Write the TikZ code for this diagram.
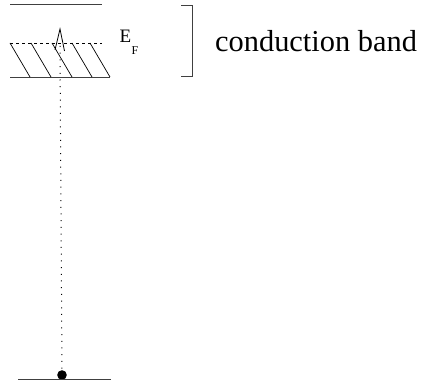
\documentclass[tikz,border=0pt]{standalone}
\usepackage{fontspec}
\setmainfont{Liberation Serif}
\begin{document}
\begin{tikzpicture}[x=1pt,y=-1pt,
  level/.style={line width=0.9pt, draw=black!75},
  hatch/.style={line width=0.7pt},
  lbl/.style={inner sep=0pt, anchor=base west}]
\useasboundingbox (0,0) rectangle (421,385);
% levels
\draw[level] (10,4.5) coordinate (t1) -- (102,4.5) coordinate (t2);
\draw[line width=0.7pt, dash pattern=on 3pt off 3pt] (10,43) coordinate (f1) -- (102,43) coordinate (f2);
\draw[level] (10,77) coordinate (b1) -- (110,77) coordinate (b2);
% hatching
\foreach \x in {10,31,52,72,90}
  \draw[hatch] (\x,43) -- (\x+20,77);
% arrow head and dotted line
\coordinate (tip) at (60,29);
\coordinate (dot) at (62,375);
\draw[line width=0.8pt] (55,50) -- (tip) -- (64.5,51);
\draw[line width=1pt, dash pattern=on 1pt off 5.7pt] (60,46) -- (dot);
\fill (dot) circle (4.8);
\draw[level] (18,379) coordinate (g1) -- (111,379) coordinate (g2);
% E_F label
\node[lbl, font=\fontsize{19}{20}\selectfont] (E) at (119.5,43) {E};
\node[lbl, font=\fontsize{12}{13}\selectfont] (F) at (131.5,55) {F};
% bracket
\draw[line width=0.8pt, draw=black!75] (181,5) -- (192,5) -- (192,76) -- (181,76);
\node[lbl, font=\fontsize{30.4}{34}\selectfont] (cb) at (215,52) {conduction band};
\end{tikzpicture}
\end{document}
